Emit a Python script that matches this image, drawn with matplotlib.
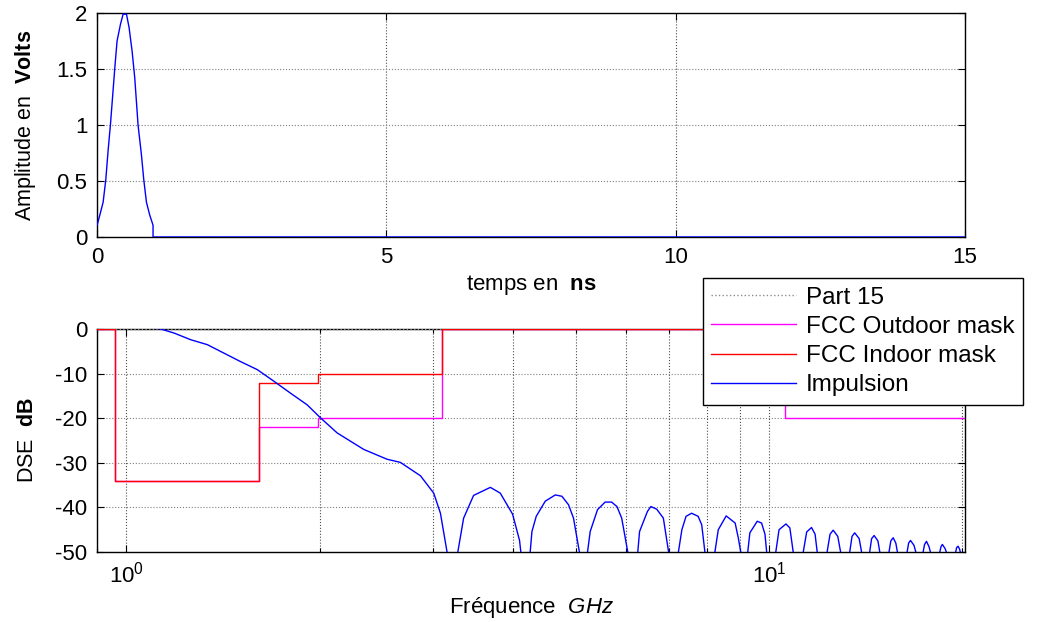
import matplotlib
matplotlib.use('agg')
import matplotlib.pyplot as plt
from matplotlib.ticker import FormatStrFormatter, LogLocator, NullFormatter

plt.rcParams['font.family'] = ['Liberation Sans', 'DejaVu Sans']
plt.rcParams['mathtext.fontset'] = 'custom'
plt.rcParams['mathtext.rm'] = 'Liberation Sans'
plt.rcParams['mathtext.bf'] = 'Liberation Sans:bold'
plt.rcParams['mathtext.it'] = 'Liberation Sans:italic'
plt.rcParams['axes.unicode_minus'] = False

# impulse in time (ns, V)
t_ns = [0.0, 0.047, 0.104, 0.15, 0.19, 0.23, 0.266, 0.306, 0.345, 0.404, 0.45,
        0.508, 0.553, 0.605, 0.651, 0.708, 0.767, 0.807, 0.853, 0.91, 0.967,
        0.967, 15.0]
v_volts = [0.105, 0.195, 0.31, 0.51, 0.77, 1.0, 1.24, 1.51, 1.75, 1.90, 1.99,
           1.99, 1.87, 1.66, 1.42, 1.0, 0.73, 0.51, 0.31, 0.195, 0.105,
           0.0, 0.0]

# FCC masks (GHz edges, dB relative to -41.3 dBm/MHz)
mask_edges = [0.9, 0.96, 1.61, 1.99, 3.1, 10.6, 20.2]
part15_db = [0, 0, 0, 0, 0, 0]
outdoor_db = [0, -34, -22, -20, 0, -20]
indoor_db = [0, -34, -12, -10, 0, -10]

# spectrum of the impulse (GHz, dB)
spec_f = [0.9, 1.0, 1.131, 1.186, 1.259, 1.336, 1.418, 1.505, 1.598, 1.696,
          1.801, 1.911, 2.004, 2.128, 2.341, 2.545, 2.669, 2.868, 3.008, 3.081,
          3.155, 3.22, 3.279, 3.348, 3.47, 3.685, 3.818, 3.99, 4.091, 4.11,
          4.18, 4.25, 4.277, 4.343, 4.486, 4.65, 4.762, 4.876, 4.964, 5.07,
          5.14, 5.22, 5.27, 5.41, 5.56, 5.69, 5.80, 5.90, 6.03,
          6.14, 6.25, 6.29, 6.47, 6.55, 6.69, 6.85, 6.98,
          7.1, 7.23, 7.32, 7.43, 7.58, 7.76, 7.86, 7.95,
          8.1, 8.24, 8.34, 8.58, 8.70, 8.86, 8.96, 9.04,
          9.15, 9.27, 9.34, 9.59, 9.74, 9.86, 9.92,
          10.08, 10.25, 10.37, 10.63, 10.78, 10.91,
          11.1, 11.31, 11.45, 11.65, 11.8, 11.89,
          12.1, 12.32, 12.45, 12.59, 12.8, 12.93,
          13.15, 13.36, 13.47, 13.6, 13.82, 13.94,
          14.15, 14.35, 14.45, 14.58, 14.78, 14.88,
          15.1, 15.38, 15.48, 15.61, 15.76, 15.85,
          16.1, 16.41, 16.5, 16.61, 16.82, 16.93,
          17.15, 17.38, 17.47, 17.59, 17.75, 17.84,
          18.15, 18.45, 18.53, 18.62, 18.8, 18.89,
          19.2, 19.53, 19.6, 19.7, 19.8, 19.86, 20.0]
spec_db = [2.2, 1.4, 0.0, -0.9, -2.4, -3.5, -5.4, -7.3, -9.1, -11.7,
           -14.4, -17.0, -19.9, -23.3, -27.0, -29.2, -29.9, -32.9, -36.8, -41.3,
           -50, -75, -50, -42.4, -37.3, -35.5, -36.8, -41.5, -47.4, -50,
           -75, -50, -45.4, -42.0, -38.6, -37.2, -37.5, -39.4, -42.4, -50,
           -75, -50, -45.4, -40.5, -38.8, -38.8, -39.8, -42.4, -50,
           -75, -50, -45.4, -40.9, -39.8, -40.4, -42.4, -50,
           -75, -50, -45.0, -42.0, -41.3, -42.0, -43.9, -50,
           -75, -50, -45.0, -41.9, -42.6, -43.5, -46.8, -50,
           -75, -50, -45.7, -43.1, -43.5, -46.0, -50,
           -75, -50, -45.0, -43.7, -44.6, -50,
           -75, -50, -45.5, -44.5, -46.0, -50,
           -75, -50, -46.0, -45.1, -46.5, -50,
           -75, -50, -46.5, -45.7, -47.0, -50,
           -75, -50, -47.0, -46.3, -47.5, -50,
           -75, -50, -47.5, -46.8, -48.0, -50,
           -75, -50, -48.0, -47.4, -48.5, -50,
           -75, -50, -48.3, -47.6, -48.8, -50,
           -75, -50, -48.8, -48.3, -49.2, -50,
           -75, -50, -49.0, -48.7, -49.3, -50, -75]

fig = plt.figure(figsize=(10.44, 6.22), dpi=100)
ax1 = fig.add_axes([0.093, 0.619, 0.8314, 0.360])
ax2 = fig.add_axes([0.093, 0.1125, 0.8314, 0.3585])

for ax in (ax1, ax2):
    ax.tick_params(which='both', direction='in', top=True, right=True,
                   labelsize=16, width=0.8)
    ax.tick_params(which='major', length=5)
    ax.tick_params(which='minor', length=3)
    for s in ax.spines.values():
        s.set_linewidth(1.0)

# top: time
ax1.plot(t_ns, v_volts, color='#0000ff', lw=1.0, zorder=3)
ax1.set_xlim(0, 15)
ax1.set_ylim(0, 2)
ax1.set_xticks([0, 5, 10, 15])
ax1.set_yticks([0, 0.5, 1, 1.5, 2])
ax1.yaxis.set_major_formatter(FormatStrFormatter('%g'))
ax1.tick_params(axis='x', pad=7)
ax1.tick_params(axis='y', pad=7)
ax1.grid(True, axis='x', color='0.3', ls=':', lw=0.8)
ax1.grid(True, axis='y', color='0.5', ls=':', lw=0.8)
ax1.set_xlabel(r'temps en  $\mathbf{ns}$', fontsize=16, labelpad=4)
ax1.set_ylabel(r'Amplitude en  $\mathbf{Volts}$', fontsize=15.5, labelpad=13)

# bottom: spectrum vs masks
ax2.set_xscale('log')
ax2.step(mask_edges, part15_db + [part15_db[-1]], where='post',
         color='0.55', ls=':', lw=1.0, label='Part 15', zorder=3)
ax2.step(mask_edges, outdoor_db + [outdoor_db[-1]], where='post',
         color='#ff00ff', lw=1.0, label='FCC Outdoor mask', zorder=3)
ax2.step(mask_edges, indoor_db + [indoor_db[-1]], where='post',
         color='#ff0000', lw=1.0, label='FCC Indoor mask', zorder=3)
ax2.plot(spec_f, spec_db, color='#0000ff', lw=1.0, label='Impulsion', zorder=3)
ax2.set_xlim(0.9, 20.2)
ax2.set_ylim(-50, 0)
ax2.set_yticks([0, -10, -20, -30, -40, -50])
ax2.xaxis.set_major_locator(LogLocator(base=10))
ax2.xaxis.set_minor_locator(LogLocator(base=10, subs=range(2, 10)))
ax2.xaxis.set_minor_formatter(NullFormatter())
ax2.tick_params(axis='x', pad=7)
ax2.tick_params(axis='y', pad=7)
ax2.grid(True, axis='x', which='both', color='0.3', ls=':', lw=0.8)
ax2.grid(True, axis='y', which='major', color='0.5', ls=':', lw=0.8)
ax2.set_xlabel(r'Fréquence  $\mathit{GHz}$', fontsize=16, labelpad=5)
ax2.set_ylabel(r'DSE  $\mathbf{dB}$', fontsize=15.5, labelpad=12)

leg = fig.legend(loc='upper left', bbox_to_anchor=(0.673, 0.553),
                 borderaxespad=0, fontsize=17.5, handlelength=3.5,
                 handletextpad=0.4, labelspacing=0.3, borderpad=0.35,
                 fancybox=False, framealpha=1, edgecolor='black')
leg.get_frame().set_linewidth(1.0)

plt.savefig('out.png', dpi=100)
plt.close()
